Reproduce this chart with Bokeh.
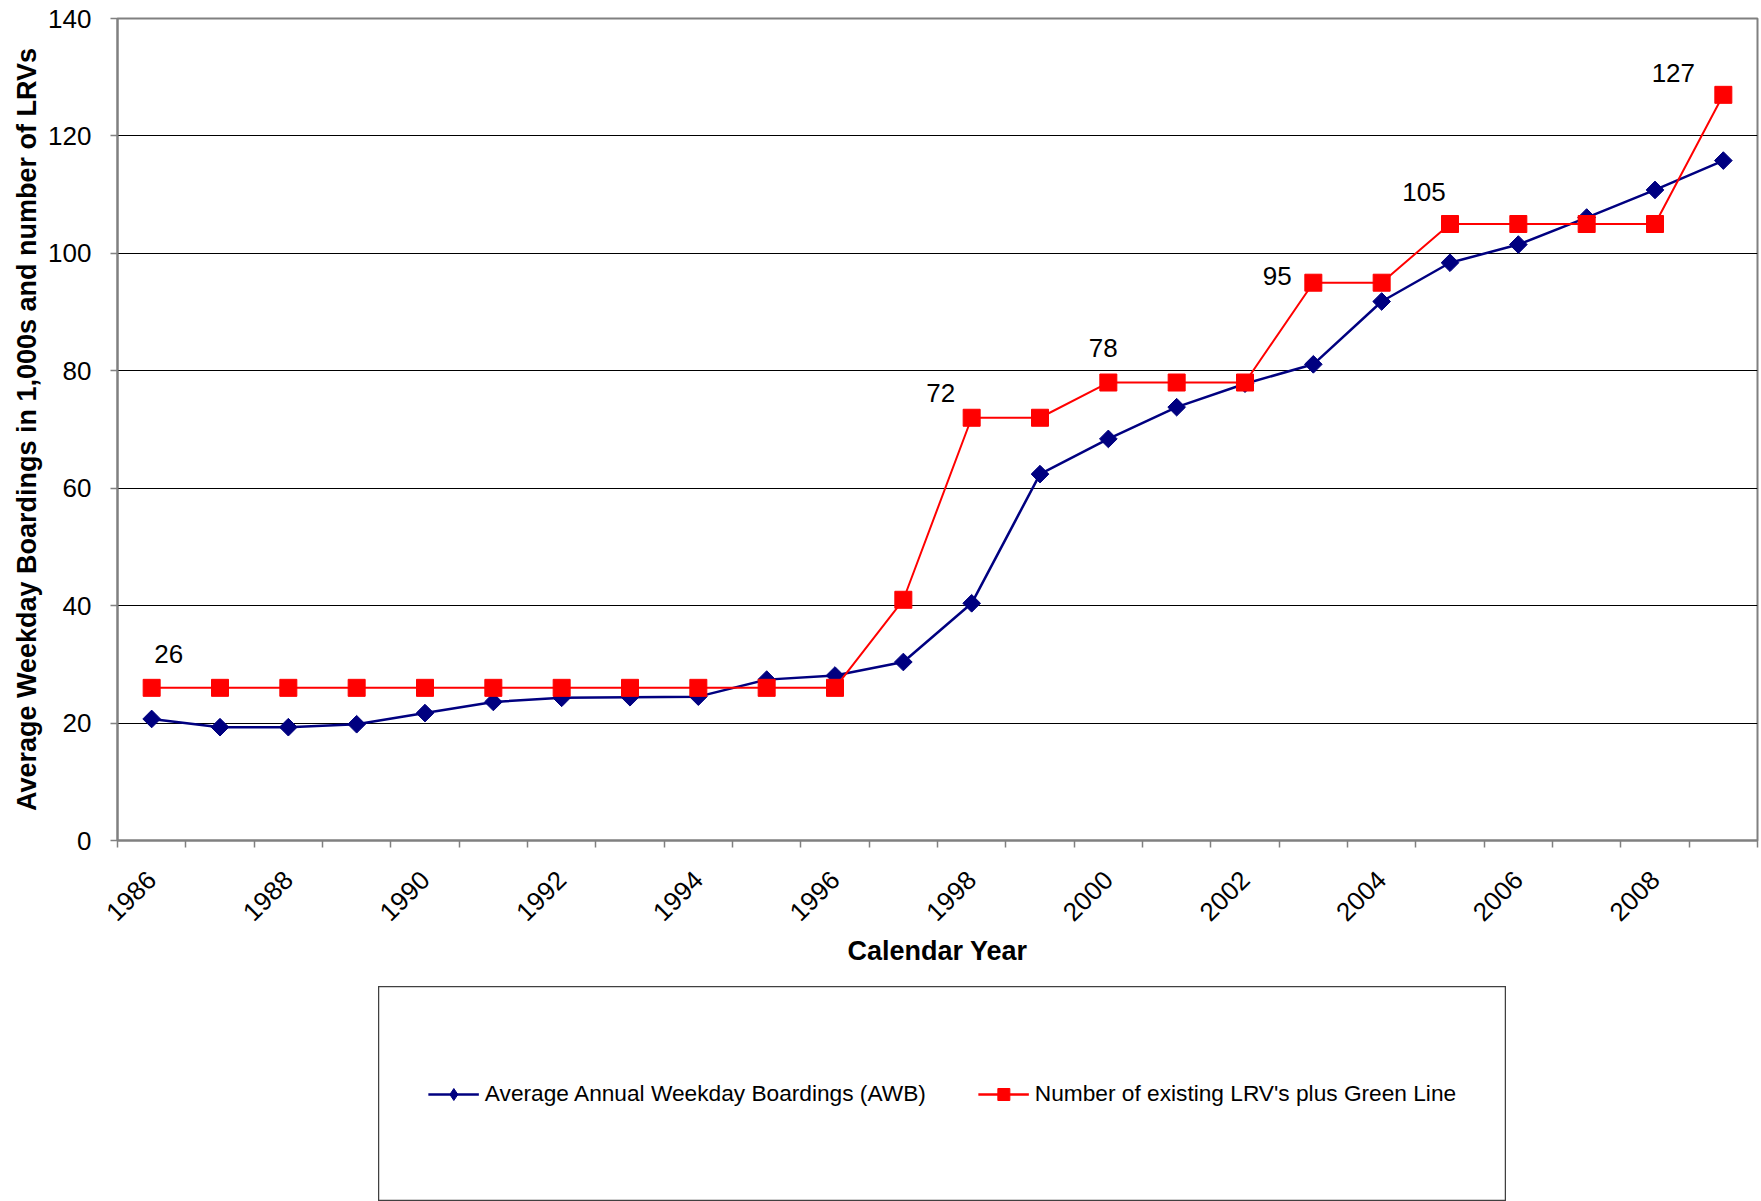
import math
from bokeh.plotting import figure
from bokeh.models import Range1d, FixedTicker, Legend, LegendItem, Spacer, ColumnDataSource
from bokeh.layouts import column, row
from bokeh.embed import file_html
from bokeh.resources import INLINE
from bokeh.core.properties import value

# ---------------- data ----------------
years = [1986, 1987, 1988, 1989, 1990, 1991, 1992, 1993, 1994, 1995, 1996, 1997,
         1998, 1999, 2000, 2001, 2002, 2003, 2004, 2005, 2006, 2007, 2008, 2009]
awb = [20.7, 19.3, 19.3, 19.8, 21.7, 23.6, 24.3, 24.4, 24.5, 27.4, 28.1, 30.4,
       40.4, 62.4, 68.4, 73.8, 77.8, 81.1, 91.8, 98.4, 101.5, 106.1, 110.8, 115.8]
lrv = [26, 26, 26, 26, 26, 26, 26, 26, 26, 26, 26, 41,
       72, 72, 78, 78, 78, 95, 95, 105, 105, 105, 105, 127]
tick_years = [1986, 1988, 1990, 1992, 1994, 1996, 1998, 2000, 2002, 2004, 2006, 2008]
y_ticks = [0, 20, 40, 60, 80, 100, 120, 140]
label_years = [1986, 1998, 2000, 2003, 2005, 2009]

series_awb = "Average Annual Weekday Boardings (AWB)"
series_lrv = "Number of existing LRV's plus Green Line"
x_title = "Calendar Year"
y_title = "Average Weekday Boardings in 1,000s and number of LRVs"

# ---------------- styles ----------------
FONT = "Liberation Sans"
BLUE = "#000080"
RED = "#FF0000"
AXIS_GRAY = "#808080"
label_dx = [17, -31, -5, -36, -26, -50]
label_dy = [-34, -25, -35, -7, -32, -22]

p = figure(width=1761, height=986,
           x_range=Range1d(years[0] - 0.5, years[-1] + 0.5),
           y_range=Range1d(y_ticks[0], y_ticks[-1]),
           toolbar_location=None, output_backend="svg",
           min_border_left=117, min_border_right=4, min_border_top=18,
           min_border_bottom=146)
p.background_fill_color = "white"
p.border_fill_color = "white"
p.outline_line_color = AXIS_GRAY
p.outline_line_width = 2

# x axis: labels at category centres, ticks at category boundaries
boundaries = [y - 0.5 for y in years] + [years[-1] + 0.5]
p.xaxis.ticker = FixedTicker(ticks=tick_years, minor_ticks=boundaries)
p.xaxis.major_tick_out = 0
p.xaxis.major_tick_in = 0
p.xaxis.minor_tick_out = 7
p.xaxis.minor_tick_in = 0
p.xaxis.minor_tick_line_color = AXIS_GRAY
p.xaxis.minor_tick_line_width = 1.5
p.xaxis.major_label_orientation = math.pi / 4
p.xaxis.major_label_standoff = 28
p.xaxis.axis_label = x_title
p.xaxis.axis_label_standoff = 4

p.yaxis.ticker = FixedTicker(ticks=y_ticks)
p.yaxis.major_tick_out = 7
p.yaxis.major_tick_in = 0
p.yaxis.minor_tick_line_color = None
p.yaxis.major_tick_line_color = AXIS_GRAY
p.yaxis.major_tick_line_width = 1.5
p.yaxis.major_label_standoff = 19
p.yaxis.axis_label = y_title
p.yaxis.axis_label_standoff = 3

for ax in (p.xaxis, p.yaxis):
    ax.axis_line_color = AXIS_GRAY
    ax.axis_line_width = 2
    ax.major_label_text_font = FONT
    ax.major_label_text_font_size = "26px"
    ax.major_label_text_color = "black"
    ax.axis_label_text_font = FONT
    ax.axis_label_text_font_size = "27px"
    ax.axis_label_text_font_style = "bold"
    ax.axis_label_text_color = "black"

p.xgrid.visible = False
p.ygrid.ticker = FixedTicker(ticks=y_ticks)
p.ygrid.grid_line_color = "black"
p.ygrid.grid_line_width = 1

src = ColumnDataSource(dict(year=years, awb=awb, lrv=lrv))
p.line("year", "awb", source=src, line_color=BLUE, line_width=2.5)
p.scatter("year", "awb", source=src, marker="square", angle=math.pi / 4,
          size=12.5, fill_color=BLUE, line_color=BLUE)
p.line("year", "lrv", source=src, line_color=RED, line_width=2)
p.scatter("year", "lrv", source=src, marker="square", size=17,
          fill_color=RED, line_color=RED)

lab_vals = [lrv[years.index(y)] for y in label_years]
lab_src = ColumnDataSource(dict(x=label_years, y=lab_vals,
                                t=[str(v) for v in lab_vals],
                                dx=label_dx, dy=label_dy))
p.text(x="x", y="y", text="t", x_offset="dx", y_offset="dy", source=lab_src,
       text_align="center", text_baseline="middle",
       text_font=value(FONT), text_font_size="26px", text_color="black")

# ---------------- legend box ----------------
p2 = figure(width=1128, height=215, x_range=Range1d(0, 1), y_range=Range1d(0, 1),
            toolbar_location=None, output_backend="svg", min_border=0,
            x_axis_location=None, y_axis_location=None)
p2.grid.visible = False
p2.outline_line_color = "#404040"
p2.outline_line_width = 1.5
p2.background_fill_color = "white"
p2.border_fill_color = "white"
dummy = ColumnDataSource(dict(x=[-5, -4], y=[-5, -4]))
l1 = p2.line("x", "y", source=dummy, line_color=BLUE, line_width=2.5)
s1 = p2.scatter("x", "y", source=dummy, marker="diamond", fill_color=BLUE, line_color=BLUE)
l2 = p2.line("x", "y", source=dummy, line_color=RED, line_width=2.5)
s2 = p2.scatter("x", "y", source=dummy, marker="square", fill_color=RED, line_color=RED)
legend = Legend(items=[LegendItem(label=series_awb, renderers=[l1, s1]),
                       LegendItem(label=series_lrv, renderers=[l2, s2])],
                orientation="horizontal", location="center", spacing=52,
                glyph_width=51, glyph_height=30, label_standoff=6,
                label_text_font=FONT, label_text_font_size="22.7px",
                label_text_color="black",
                border_line_alpha=0, background_fill_alpha=0,
                padding=0, margin=0)
p2.add_layout(legend, "center")

layout = column(p, row(Spacer(width=378, height=215), p2))
open("out.html", "w").write(file_html(layout, INLINE))
